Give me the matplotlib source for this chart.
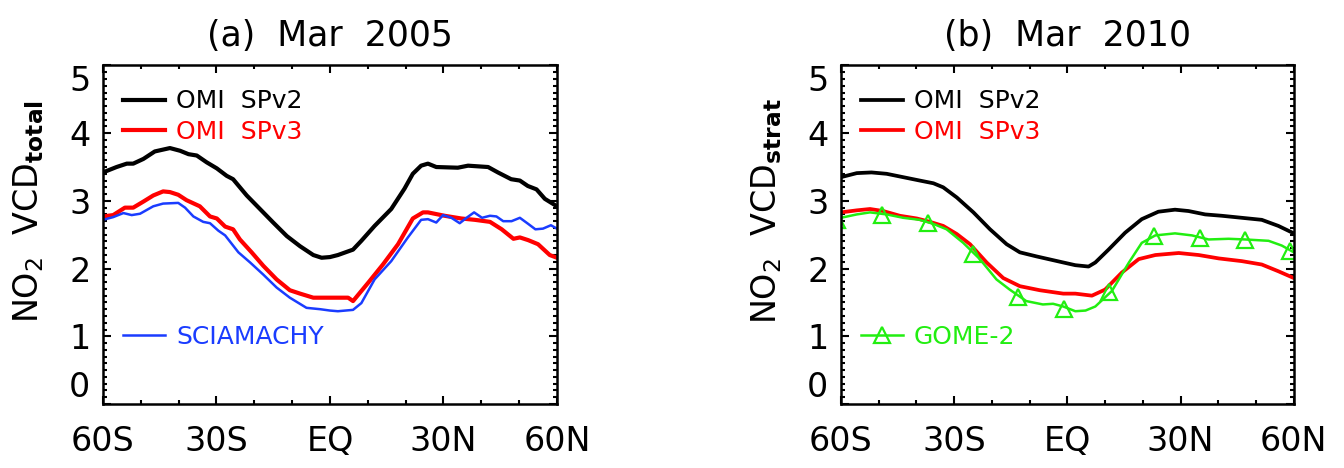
import matplotlib
matplotlib.use('Agg')
import matplotlib.pyplot as plt
from matplotlib.ticker import MultipleLocator

# zonal mean NO2 columns (10^15 molec/cm2)
# (a) Mar 2005
a_v2_lat = [-60, -56.4, -53.7, -52, -49.3, -46.3, -42.3, -39.6, -37.4, -35.2, -32.6, -29.9,
            -27.3, -25.6, -22, -18.5, -15, -11.4, -7.9, -4.4, -2.2, 0, 2.1, 6.1, 8.3, 11.8,
            16.2, 19.7, 21.9, 24.1, 25.9, 28.1, 33.8, 36.5, 41.8, 44.4, 47.9, 50.2, 52.3,
            54.6, 56.8, 60]
a_v2_val = [3.42, 3.50, 3.55, 3.55, 3.62, 3.73, 3.78, 3.74, 3.69, 3.67, 3.57, 3.48,
            3.37, 3.32, 3.08, 2.88, 2.68, 2.48, 2.33, 2.20, 2.16, 2.17, 2.20, 2.28, 2.41, 2.63,
            2.88, 3.18, 3.40, 3.52, 3.55, 3.50, 3.49, 3.52, 3.50, 3.42, 3.32, 3.30, 3.22,
            3.17, 3.03, 2.92]

a_v3_lat = [-60, -57.3, -54.2, -52, -49.3, -46.7, -44.1, -42.3, -40.1, -37.9, -34.4, -31.7,
            -29.9, -27.7, -25.6, -23.8, -20.7, -17.6, -14.1, -10.6, -7.9, -4.4, 0, 4.8, 6.1,
            10.1, 14, 18, 21.9, 24.6, 25.9, 30.3, 34.7, 38.3, 42.3, 45.4, 48.5, 50.2, 52.4,
            55, 58.1, 60]
a_v3_val = [2.77, 2.79, 2.90, 2.90, 2.99, 3.08, 3.14, 3.13, 3.09, 3.01, 2.92, 2.77,
            2.74, 2.62, 2.58, 2.43, 2.24, 2.04, 1.84, 1.68, 1.63, 1.57, 1.57, 1.57, 1.52,
            1.79, 2.06, 2.36, 2.74, 2.83, 2.83, 2.78, 2.74, 2.72, 2.69, 2.58, 2.44, 2.46, 2.42,
            2.36, 2.20, 2.16]

scia_lat = [-60, -57.3, -54.6, -52.4, -50.2, -46.7, -44.1, -40.1, -38.3, -36.1, -33.5, -31.7,
            -29.5, -27.7, -24.2, -21.1, -17.6, -14.1, -10.6, -6.2, -2.6, 0, 2.1, 6.1, 8.3,
            11.8, 16.2, 20.6, 24.1, 25.9, 28.1, 29.9, 32.1, 34.3, 36.1, 38.1, 40.2, 42.3, 44,
            45.8, 48, 50.2, 52.4, 54.3, 56.3, 58.4, 60]
scia_val = [2.72, 2.76, 2.82, 2.79, 2.81, 2.92, 2.96, 2.97, 2.90, 2.77, 2.69, 2.67,
            2.56, 2.49, 2.24, 2.09, 1.91, 1.72, 1.57, 1.42, 1.40, 1.38, 1.37, 1.39, 1.49,
            1.84, 2.11, 2.46, 2.72, 2.73, 2.68, 2.79, 2.75, 2.67, 2.75, 2.83, 2.75, 2.78, 2.77,
            2.70, 2.70, 2.75, 2.66, 2.58, 2.59, 2.64, 2.59]

# (b) Mar 2010
b_v2_lat = [-60, -55.8, -51.9, -47.9, -43.5, -39.1, -35.5, -32.9, -29.3, -24.9, -20.5, -16.1,
            -12.6, -8.2, -1.1, 2.1, 5.6, 7.4, 10.9, 15.3, 19.7, 24.1, 28.5, 32.1, 36.5, 40.9,
            46.2, 51.5, 55.9, 60]
b_v2_val = [3.35, 3.41, 3.42, 3.40, 3.35, 3.30, 3.26, 3.20, 3.05, 2.83, 2.58, 2.36,
            2.24, 2.18, 2.09, 2.05, 2.03, 2.09, 2.28, 2.53, 2.73, 2.84, 2.87, 2.85, 2.80, 2.78,
            2.75, 2.72, 2.63, 2.52]

b_v3_lat = [-60, -55.8, -52.3, -48.8, -44.4, -39.9, -36.4, -32.9, -29.3, -25.8, -21.4, -17,
            -12.6, -7.3, -1.1, 2.1, 6.5, 10, 14.4, 18.9, 23.3, 29.5, 34.8, 40.1, 46.2, 51.5,
            55.9, 60]
b_v3_val = [2.83, 2.86, 2.88, 2.85, 2.78, 2.74, 2.69, 2.63, 2.51, 2.36, 2.09, 1.86,
            1.74, 1.68, 1.63, 1.63, 1.60, 1.69, 1.94, 2.14, 2.20, 2.23, 2.20, 2.15, 2.11, 2.06,
            1.96, 1.86]

gome_lat = [-60, -55.8, -52.3, -47.9, -43.5, -39.1, -35.5, -32, -27.6, -23.2, -18.8, -15.3,
            -10.9, -6.5, -3.8, -1.1, 2.1, 4.8, 7.4, 11.8, 16.3, 19.7, 23.3, 28.5, 33, 37.4,
            42.7, 47.1, 53.3, 56.8, 60]
gome_val = [2.75, 2.80, 2.83, 2.80, 2.75, 2.72, 2.66, 2.58, 2.38, 2.14, 1.84, 1.69,
            1.52, 1.47, 1.48, 1.44, 1.37, 1.38, 1.44, 1.67, 2.09, 2.38, 2.49, 2.52, 2.49, 2.43,
            2.44, 2.43, 2.41, 2.34, 2.24]
gome_mark_lat = [-61, -49, -37, -25, -13, -1, 11, 23, 35, 47, 59]
gome_mark_val = [2.72, 2.79, 2.68, 2.22, 1.58, 1.41, 1.65, 2.48, 2.45, 2.42, 2.26]

xtick_pos = [-60, -30, 0, 30, 60]
xtick_labels = ['60S', '30S', 'EQ', '30N', '60N']
ytick_pos = [0, 1, 2, 3, 4, 5]

BLUE = '#1a3cff'
GREEN = '#22ee11'

plt.rcParams['font.family'] = ['DejaVu Sans']
plt.rcParams['mathtext.fontset'] = 'dejavusans'


def setup(ax, title, ylabel):
    ax.set_xlim(-60, 60)
    ax.set_ylim(0, 5)
    ax.set_xticks(xtick_pos)
    ax.set_xticklabels(xtick_labels)
    ax.set_yticks(ytick_pos)
    ax.xaxis.set_minor_locator(MultipleLocator(10))
    ax.yaxis.set_minor_locator(MultipleLocator(0.1))
    ax.tick_params(which='both', direction='in', top=True, right=True, width=1.5)
    ax.tick_params(which='major', length=6)
    ax.tick_params(which='minor', length=3)
    ax.tick_params(axis='x', labelsize=24, pad=15)
    ax.tick_params(axis='y', labelsize=24, pad=9)
    for sp in ax.spines.values():
        sp.set_linewidth(1.8)
    # IDL style: bottom/top y labels sit inside the axis range
    ylabs = ax.get_yticklabels()
    ylabs[0].set_va('bottom')
    ylabs[-1].set_va('top')
    ax.set_title(title, fontsize=25, pad=14)
    ax.set_ylabel(ylabel, fontsize=24)
    ax.yaxis.set_label_coords(-0.125, 0.57)


def legends(ax, top_lines, bottom_line):
    kw = dict(frameon=False, fontsize=18, handlelength=1.65, handletextpad=0.45,
              labelcolor='linecolor', borderpad=0, borderaxespad=0, labelspacing=0.25,
              numpoints=1)
    leg1 = ax.legend(handles=top_lines, loc='center left', bbox_to_anchor=(0.045, 0.849), **kw)
    ax.add_artist(leg1)
    ax.legend(handles=[bottom_line], loc='center left', bbox_to_anchor=(0.045, 0.198), **kw)


fig = plt.figure(figsize=(13.44, 4.68), dpi=100)
ax1 = fig.add_axes([0.0766, 0.1368, 0.3378, 0.7233])
ax2 = fig.add_axes([0.6257, 0.1368, 0.3370, 0.7233])

# panel (a)
l1, = ax1.plot(a_v2_lat, a_v2_val, color='black', lw=3.0, label='OMI  SPv2')
l2, = ax1.plot(a_v3_lat, a_v3_val, color='red', lw=3.0, label='OMI  SPv3')
l3, = ax1.plot(scia_lat, scia_val, color=BLUE, lw=1.8, label='SCIAMACHY')
setup(ax1, '(a)  Mar  2005', r'NO$_2$  VCD$_\mathbf{total}$')
legends(ax1, [l1, l2], l3)

# panel (b)
m1, = ax2.plot(b_v2_lat, b_v2_val, color='black', lw=2.7, label='OMI  SPv2')
m2, = ax2.plot(b_v3_lat, b_v3_val, color='red', lw=2.7, label='OMI  SPv3')
ax2.plot(gome_lat, gome_val, color=GREEN, lw=1.8)
ax2.plot(gome_mark_lat, gome_mark_val, ls='none', marker='^', ms=11, mfc='none',
         mec=GREEN, mew=1.6)
m3, = ax2.plot([], [], color=GREEN, lw=1.8, marker='^', ms=11, mfc='none', mec=GREEN,
               mew=1.6, label='GOME-2')
setup(ax2, '(b)  Mar  2010', r'NO$_2$  VCD$_\mathbf{strat}$')
legends(ax2, [m1, m2], m3)

fig.savefig('out.png', dpi=100)
